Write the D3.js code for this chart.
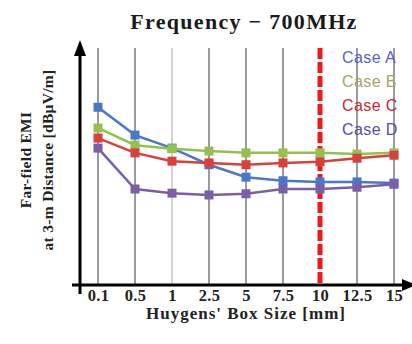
<!DOCTYPE html>
<html>
<head>
<meta charset="utf-8">
<script src="https://cdn.jsdelivr.net/npm/d3@7"></script>
<style>
  html, body { margin: 0; padding: 0; background: #fff; }
  svg { display: block; }
</style>
</head>
<body>
<svg id="chart" width="412" height="344"></svg>
<script>
// Huygens' box size sweep (mm) and far-field EMI at 3 m (dBμV/m)
const boxSizes = ["0.1", "0.5", "1", "2.5", "5", "7.5", "10", "12.5", "15"];
const caseA = [50.0, 45.3, 43.1, 40.3, 38.2, 37.6, 37.4, 37.4, 37.2];
const caseB = [46.5, 43.6, 43.0, 42.6, 42.3, 42.3, 42.3, 42.1, 42.3];
const caseC = [44.8, 42.3, 40.9, 40.6, 40.3, 40.6, 40.8, 41.4, 41.9];
const caseD = [43.1, 36.2, 35.5, 35.2, 35.4, 36.2, 36.2, 36.5, 37.0];
const seriesNames = ["Case A", "Case B", "Case C", "Case D"];
const markedSize = "10";

const series = [
  { name: seriesNames[0], values: caseA, line: "#4a78c8", text: "#5a60c8" },
  { name: seriesNames[1], values: caseB, line: "#93c04e", text: "#a9a468" },
  { name: seriesNames[2], values: caseC, line: "#d9403c", text: "#c8283c" },
  { name: seriesNames[3], values: caseD, line: "#7a5fa8", text: "#5a4aa8" }
];

const svg = d3.select("#chart");
const serif = "'Liberation Serif', 'Times New Roman', serif";
const sans = "'Liberation Sans', Arial, sans-serif";

const plotTop = 48, plotBottom = 285, axisX = 80;

const x = d3.scalePoint().domain(boxSizes).range([98, 394]);
const y = d3.scaleLinear().domain([20, 60]).range([plotBottom, plotTop]);

// vertical grid lines at each box size
svg.append("g").selectAll("line").data(boxSizes.filter(d => d !== markedSize)).join("line")
  .attr("x1", d => x(d)).attr("x2", d => x(d))
  .attr("y1", plotTop).attr("y2", plotBottom)
  .attr("stroke", d => d === "1" ? "#c4c4c4" : "#7a7a7a")
  .attr("stroke-width", 1.5);

// highlighted box size
svg.append("line")
  .attr("x1", x(markedSize)).attr("x2", x(markedSize))
  .attr("y1", plotTop).attr("y2", plotBottom)
  .attr("stroke", "#f01818").attr("stroke-width", 5)
  .attr("stroke-dasharray", "11,3");

// series lines and square markers
const line = d3.line().x((d, i) => x(boxSizes[i])).y(d => y(d));
series.forEach(s => {
  svg.append("path").datum(s.values)
    .attr("d", line).attr("fill", "none")
    .attr("stroke", s.line).attr("stroke-width", 2.5);
  svg.append("g").selectAll("rect").data(s.values).join("rect")
    .attr("x", (d, i) => x(boxSizes[i]) - 4.5)
    .attr("y", d => y(d) - 4.5)
    .attr("width", 9).attr("height", 9)
    .attr("fill", s.line);
});

// axes with arrow heads
svg.append("line").attr("x1", axisX).attr("x2", axisX)
  .attr("y1", 294).attr("y2", 52).attr("stroke", "#000").attr("stroke-width", 3);
svg.append("path").attr("d", `M${axisX - 6},56 L${axisX},40 L${axisX + 6},56 Z`).attr("fill", "#000");
svg.append("line").attr("x1", 72).attr("x2", 404)
  .attr("y1", plotBottom).attr("y2", plotBottom).attr("stroke", "#000").attr("stroke-width", 3);
svg.append("path").attr("d", `M402,${plotBottom - 6} L416,${plotBottom} L402,${plotBottom + 6} Z`).attr("fill", "#000");

// x tick labels
const xAxis = d3.axisBottom(x).tickSize(0).tickPadding(0);
const gx = svg.append("g").attr("transform", `translate(0,${plotBottom})`).call(xAxis);
gx.select(".domain").remove();
gx.selectAll("text")
  .attr("dy", null).attr("y", 16)
  .attr("font-family", serif).attr("font-weight", "bold")
  .attr("font-size", 16.5).attr("letter-spacing", 0.3).attr("fill", "#222");

// titles
svg.append("text").attr("x", 244).attr("y", 29).attr("text-anchor", "middle")
  .attr("font-family", serif).attr("font-weight", "bold").attr("font-size", 22)
  .attr("letter-spacing", 1.3).attr("fill", "#1a1a1a").text("Frequency − 700MHz");

svg.append("text").attr("x", 246).attr("y", 319).attr("text-anchor", "middle")
  .attr("font-family", serif).attr("font-weight", "bold").attr("font-size", 17)
  .attr("letter-spacing", 1).attr("fill", "#222").text("Huygens' Box Size [mm]");

const yl = svg.append("text").attr("transform", "translate(31,160) rotate(-90)")
  .attr("text-anchor", "middle").attr("font-family", serif)
  .attr("font-weight", "bold").attr("font-size", 15.5).attr("letter-spacing", 0.3)
  .attr("fill", "#222");
yl.append("tspan").attr("x", 0).attr("dy", 0).text("Far-field EMI");
yl.append("tspan").attr("x", 0).attr("dy", 22).text("at 3-m Distance [dBμV/m]");

// legend
svg.append("g").selectAll("text").data(series).join("text")
  .attr("x", 342).attr("y", (d, i) => 63 + i * 24)
  .attr("font-family", sans).attr("font-size", 16)
  .attr("letter-spacing", 0.4)
  .attr("fill", d => d.text).text(d => d.name);
</script>
</body>
</html>
